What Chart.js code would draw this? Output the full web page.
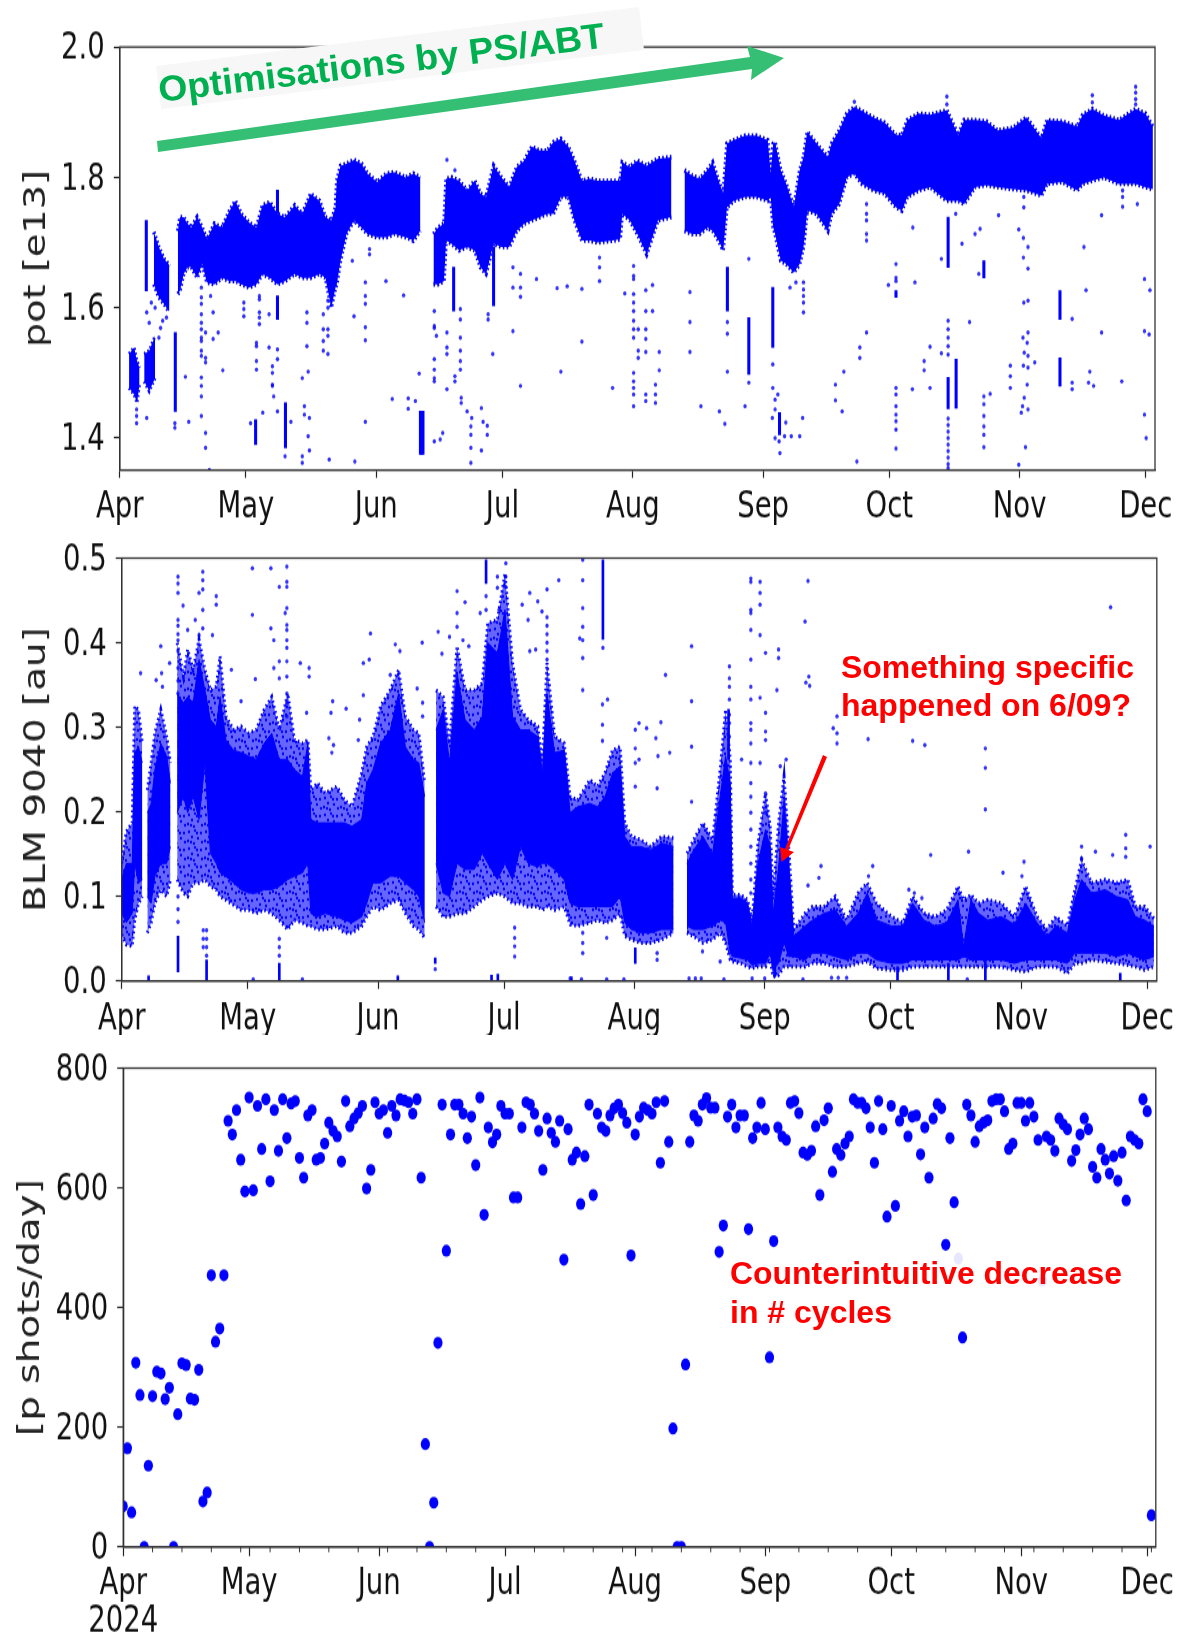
<!DOCTYPE html>
<html><head><meta charset="utf-8">
<script src="https://cdn.jsdelivr.net/npm/chart.js@4"></script>
<style>
html,body{margin:0;padding:0;background:#fff;overflow:hidden;width:1182px;height:1633px}
canvas{position:absolute;left:0;transform-origin:0 0}
svg{position:absolute;left:0;top:0}
</style></head><body>
<canvas id="c1"></canvas><canvas id="c2"></canvas><canvas id="c3"></canvas>
<svg width="1182" height="1633" viewBox="0 0 1182 1633" font-family="'Liberation Sans',Arial,sans-serif" font-weight="700">
  <polygon points="156,66 639,7 644,50 161,109" fill="#f7f7f7"/>
  <text x="160" y="102" transform="rotate(-6.96 160 102)" fill="#00b050" font-size="36" textLength="449" lengthAdjust="spacingAndGlyphs">Optimisations by PS/ABT</text>
  <polygon points="157,141 750,57 747,46 784,58 751,80 752,69 158,152" fill="#35bf75"/>
  <polygon points="823,755 827,757 788,850 794,852 781.5,862 780,847 785,849" fill="#ff0000"/>
  <text x="841" y="678" fill="#ff0000" font-size="31" textLength="293" lengthAdjust="spacingAndGlyphs">Something specific</text>
  <text x="841" y="716" fill="#ff0000" font-size="31" textLength="290" lengthAdjust="spacingAndGlyphs">happened on 6/09?</text>
  <rect x="725" y="1252" width="405" height="78" fill="#ffffff" fill-opacity="0.9"/>
  <text x="730" y="1284" fill="#ff0000" font-size="31" textLength="392" lengthAdjust="spacingAndGlyphs">Counterintuitive decrease</text>
  <text x="730" y="1323" fill="#ff0000" font-size="31" textLength="162" lengthAdjust="spacingAndGlyphs">in # cycles</text>
</svg>
<script>
const monthDays=[0,30,61,91,122,153,183,214,244];
const monthLabels=['Apr','May','Jun','Jul','Aug','Sep','Oct','Nov','Dec'];
const weekDays=[7,14,21,28,35,42,49,56,63,70,77,84,98,105,112,119,126,133,140,147,154,161,168,175,189,196,203,210,217,224,231,238,245];

const potTicks=[1.4,1.6,1.8,2.0];
const blmTicks=[0,0.1,0.2,0.3,0.4,0.5];
const shotTicks=[0,200,400,600,800];

// pot [e13]: upper and lower edge of the dense band
const potEarlyDays=[2.2,3.4,4.1,4.7,5.2,5.8,7.0,8.4];
const potEarlyHigh=[1.529,1.539,1.518,1.508,null,1.529,1.534,1.557];
const potEarlyLow=[1.477,1.467,1.454,1.483,null,1.487,1.472,1.492];
const potDays=[8.1,9.3,10.5,11.6,11.8,12.8,13.8,14.3,15.2,16.1,17.0,18.4,19.6,20.7,22.5,24.3,26.1,27.5,28.9,30.7,32.5,33.9,35.7,37.5,39.3,41.6,43.4,45.4,47.5,48.9,50.3,51.3,51.6,52.5,53.9,55.7,57.5,58.9,61.2,63.4,65.3,68.0,69.8,71.5,73,74.6,75.7,77.1,77.6,78.9,80.7,82.6,84.4,85.8,87.1,88.9,90.8,92.6,94.4,96.2,98.0,99.9,101.7,103.1,104.9,106.7,108.1,109.9,111.85,113.6,117.2,119.0,119.5,121.3,123.1,125.3,128.0,131.2,132.7,134.3,136.1,137.9,139.7,141.0,142.4,143.5,144.4,146.0,148.7,151.4,154.1,154.8,155.4,155.85,157.2,158.5,160.3,161.7,162.6,163.5,165.7,168.4,169.3,171.1,172.9,174.7,176.5,179.2,181.9,184.6,186.0,187.3,190.0,192.7,196.7,199.4,200.8,203.4,206.1,208.8,212.4,215.6,219.2,220.5,224.1,227.7,229.0,231.3,234.0,237.6,241.6,243.9,245.7];
const potHigh=[1.716,1.693,1.675,1.667,1.664,null,1.718,1.739,1.739,1.729,1.723,1.739,1.723,1.705,1.729,1.723,1.749,1.764,1.744,1.731,1.723,1.757,1.762,1.744,1.739,1.757,1.744,1.775,1.764,1.739,1.734,1.754,1.795,1.818,1.821,1.827,1.821,1.806,1.793,1.806,1.808,1.800,1.806,1.800,null,1.713,1.723,1.729,1.798,1.800,1.795,1.780,1.795,1.775,1.770,1.818,1.800,1.785,1.816,1.826,1.847,1.841,1.841,1.854,1.859,1.847,1.826,1.795,1.798,1.795,1.795,1.795,1.823,1.816,1.826,1.818,1.829,1.831,null,1.811,1.803,1.798,1.811,1.823,1.795,1.775,1.852,1.857,1.864,1.864,1.857,1.806,1.852,1.854,1.811,1.790,1.754,1.811,1.831,1.870,1.852,1.831,1.852,1.872,1.898,1.908,1.902,1.892,1.884,1.865,1.865,1.888,1.898,1.896,1.903,1.865,1.888,1.888,1.886,1.872,1.876,1.892,1.860,1.888,1.886,1.878,1.896,1.905,1.895,1.888,1.905,1.898,1.878];
const potLow=[1.636,1.616,1.606,1.595,1.595,null,1.621,1.626,1.652,1.662,1.662,1.646,1.667,1.639,1.636,1.646,1.641,1.641,1.636,1.631,1.636,1.652,1.646,1.636,1.641,1.652,1.646,1.646,1.652,1.646,1.600,1.631,1.636,1.672,1.713,1.734,1.723,1.713,1.708,1.708,1.713,1.708,1.703,1.718,null,1.636,1.636,1.641,1.703,1.698,1.688,1.693,1.688,1.662,1.652,1.698,1.693,1.693,1.718,1.729,1.734,1.739,1.744,1.744,1.770,1.770,1.734,1.703,1.703,1.700,1.703,1.705,1.744,1.734,1.713,1.682,1.734,1.739,null,1.718,1.713,1.713,1.723,1.718,1.703,1.688,1.754,1.764,1.770,1.770,1.764,1.770,1.723,1.713,1.672,1.667,1.654,1.667,1.693,1.749,1.744,1.718,1.744,1.759,1.800,1.806,1.790,1.780,1.775,1.754,1.749,1.770,1.780,1.785,1.764,1.764,1.759,1.785,1.788,1.785,1.782,1.780,1.772,1.790,1.793,1.780,1.790,1.795,1.800,1.790,1.790,1.785,1.782];
// pot: solid vertical runs [day, low, high]
const potRuns=[[6.3,1.626,1.734],[13.2,1.441,1.562],[37.5,1.582,1.618],[37.5,1.744,1.780],[32.3,1.390,1.428],[39.4,1.385,1.454],[71.8,1.375,1.441],[71.5,1.375,1.441],[72.1,1.375,1.441],[79.4,1.595,1.662],[88.9,1.603,1.693],[144.5,1.595,1.662],[149.6,1.498,1.585],[155.3,1.539,1.631],[156.9,1.405,1.439],[223.6,1.582,1.626],[223.6,1.480,1.523],[198.9,1.446,1.521],[197,1.662,1.739],[197,1.493,1.445],[205.5,1.646,1.672],[184.6,1.616,1.626]];
// pot: isolated shots [day, value, value, ...]
const potDots=[[241.6,1.939,1.93,1.92,1.912],[231.3,1.926,1.915],[196.7,1.924,1.912],[174.7,1.916],[197,1.43,1.42,1.41,1.4,1.39,1.38,1.37,1.36,1.354],[4,1.444,1.434,1.423],[6.4,1.431,1.593],[7,1.577],[9.3,1.554],[9.7,1.569],[10.2,1.58],[11.1,1.585],[8.4,1.6],[7.5,1.608],[13.1,1.423,1.416],[15.6,1.494],[16.4,1.425],[19.4,1.631,1.616,1.606,1.59,1.577,1.567,1.554,1.549,1.534,1.526,1.493,1.48,1.464,1.434],[20.4,1.562,1.523,1.516,1.408,1.385],[21.3,1.351],[21.6,1.618],[22.2,1.593,1.552],[23.4,1.562],[24.5,1.504],[29.5,1.608,1.598,1.587],[31.1,1.423],[32.5,1.546,1.541,1.518,1.505],[33.2,1.618,1.613,1.593,1.585,1.575],[34,1.439],[35.5,1.539,1.59],[36.3,1.51,1.5,1.482,1.48],[36.6,1.464],[37.5,1.536,1.521,1.441],[39.3,1.372],[40.7,1.425],[43.4,1.492,1.372,1.362],[44.8,1.502,1.403],[44.5,1.593,1.577,1.541],[43.9,1.449,1.436],[45.1,1.431,1.381],[48.4,1.59,1.567,1.549,1.534],[49.5,1.611,1.6,1.567,1.557,1.529],[49.8,1.367],[55.9,1.364],[58.4,1.639,1.618,1.606,1.57,1.55,1.425],[55.7,1.587],[55.3,1.672],[59.4,1.69,1.682],[63.3,1.641],[67.5,1.619],[64.8,1.46],[68.6,1.461,1.445],[70.3,1.457],[71.2,1.499],[74.8,1.395,1.595,1.572,1.569,1.521,1.505,1.492,1.487],[76.2,1.398],[76.8,1.408],[75.3,1.557],[77.8,1.827,1.562,1.539,1.529,1.475],[79.7,1.811,1.495,1.487],[81,1.598,1.582,1.554,1.534,1.518,1.505],[81.2,1.462,1.454],[82.6,1.441],[83.7,1.431],[83.5,1.418,1.405,1.385,1.362],[86,1.446,1.381],[86.4,1.425],[87.4,1.419,1.405],[87.6,1.59,1.582],[88.7,1.529],[93.5,1.564,1.631,1.662],[95.3,1.652,1.631,1.617,1.48],[99.1,1.644],[104,1.63],[106.4,1.633],[109.9,1.629,1.548],[104.9,1.502],[114.1,1.677,1.662,1.641],[117.2,1.477],[122.2,1.664,1.649,1.644,1.621,1.608,1.595,1.58,1.567,1.554,1.5,1.487,1.477,1.467,1.449],[123.3,1.567,1.534,1.523],[125.1,1.627,1.595,1.567,1.552,1.532,1.467,1.457],[126.7,1.635,1.595],[127.4,1.482,1.467,1.454],[128.3,1.532,1.504],[120.1,1.622],[135.6,1.624,1.578,1.532],[138.2,1.449],[142.6,1.441],[143.9,1.422],[144.5,1.578,1.56,1.502],[148.7,1.449],[149.6,1.675,1.485],[155.3,1.513,1.477],[155.85,1.459,1.444,1.4],[156.5,1.467],[155.2,1.431],[156.8,1.395],[157,1.377],[158.4,1.424],[158.1,1.403],[159.7,1.403],[161.7,1.403],[162.4,1.431],[162.6,1.639,1.628,1.618,1.608,1.593],[159.4,1.631],[160.8,1.639],[170.2,1.482,1.458],[171.8,1.441],[172.2,1.502],[175.3,1.364],[176,1.539,1.523],[177.6,1.562,1.759,1.744,1.734,1.713,1.703],[188.6,1.723],[189.1,1.639],[182.8,1.635],[184.6,1.667,1.646,1.641,1.477,1.467,1.449,1.436,1.426,1.413,1.384],[188.5,1.475],[191.3,1.518,1.504],[192.7,1.54,1.477],[195.4,1.53,1.675],[197,1.58,1.567,1.554,1.541,1.528],[202.1,1.578],[200.3,1.698],[198.8,1.744],[203.4,1.713],[204.6,1.721],[204.3,1.652],[205.5,1.464,1.452,1.434,1.418,1.405,1.386],[207,1.468],[209,1.742],[211.8,1.511,1.495,1.477],[213.8,1.72,1.359],[214.9,1.707,1.677,1.511],[216,1.693,1.66,1.611,1.562,1.526,1.508,1.444],[215,1.608,1.77,1.754],[214.8,1.554],[215.8,1.546,1.482],[215.1,1.531,1.462],[217.6,1.516],[214.7,1.449],[214.4,1.439],[215.4,1.386],[226.5,1.583,1.485,1.475],[230.7,1.502],[230.4,1.485],[231.6,1.48],[229.3,1.693],[229.8,1.627],[233.5,1.742,1.562],[238.3,1.487],[243.7,1.644,1.564,1.436],[245,1.627],[244.8,1.559],[244.1,1.4],[238.5,1.78,1.77,1.755],[242,1.759]];

// BLM 9040 [au]: scattered outer edge and dense core edge
const blmDays=[0,1.1,2.5,3.1,4,4.9,5.5,6.1,7,7.9,9.3,10.7,11.6,12.4,13.2,14.7,15.7,17,18.4,19.8,21.1,22.5,23.4,24.8,26.6,28.4,30.2,32,33.9,35.7,37.5,39.5,41.1,43,44.3,45,46.6,48.4,51.2,53,54.8,57.1,58.3,59.8,61.6,63.9,65.9,67.5,69.4,70.7,72.1,73.5,74.8,76.5,78,79.8,81.7,83.9,85.8,87.1,89.4,91.2,93,94.9,96.7,99,100.1,101.2,103,105.3,106.7,108.5,111.4,113.2,115,116.8,118.6,119.7,121.3,123.5,125.8,128.5,131.3,133,134.5,136.1,138.3,140.6,142.4,143.7,144.8,145.3,147.3,148.9,150,151.4,153.2,154.3,155,156.3,157.6,158.7,159.9,162.6,164.4,167.1,169.8,172.5,175.2,177.4,179.6,183.2,185.9,188.2,190.9,193.6,196.3,199,200.3,202.1,203.9,206.1,209.3,212.4,215.1,217.8,220.1,222.3,225,226.8,228.4,230.8,234,236.7,239.4,241.2,243.4,245.6];
const blmOuterHigh=[.139,.177,.187,.325,.321,.281,null,.226,.258,.293,.321,.289,.258,null,.4,.36,.392,.368,.404,.368,.344,.348,.384,.313,.297,.301,.293,.297,.321,.336,.297,.34,.285,.281,.285,.226,.234,.222,.23,.214,.206,.246,.277,.289,.325,.344,.368,.313,.297,.293,.234,null,.344,.336,.281,.396,.344,.344,.352,.423,.427,.482,.376,.321,.309,.301,.258,.376,.289,.281,.218,.214,.238,.23,.246,.273,.277,.187,.171,.167,.159,.171,.169,null,.151,.167,.187,.167,.25,.321,.262,.102,.102,.096,.072,.163,.222,.183,.1,.187,.242,.159,.061,.08,.088,.088,.1,.072,.104,.116,.092,.076,.069,.1,.08,.076,.084,.112,.096,.102,.092,.096,.092,.076,.112,.076,.061,.076,.065,.108,.143,.116,.12,.116,.12,.088,.088,.074];
const blmCoreHigh=[.12,.139,.139,.27,.277,.258,null,.199,.21,.25,.281,.266,.234,null,.34,.329,.336,.329,.38,.344,.309,.301,.336,.285,.273,.27,.266,.262,.281,.293,.262,.262,.25,.242,.281,.191,.187,.187,.187,.187,.183,.191,.234,.25,.281,.297,.34,.277,.262,.258,.218,null,.297,.321,.258,.364,.309,.297,.313,.4,.388,.439,.313,.297,.297,.289,.246,.34,.27,.273,.199,.206,.21,.206,.218,.246,.254,.171,.159,.159,.155,.163,.159,null,.139,.155,.171,.151,.218,.266,.234,.098,.098,.092,.065,.139,.179,.159,.08,.135,.214,.139,.053,.065,.072,.08,.084,.065,.08,.104,.072,.065,.065,.092,.072,.065,.069,.096,.041,.096,.08,.072,.076,.067,.092,.069,.053,.065,.057,.096,.12,.104,.108,.1,.096,.076,.072,.065];
const blmCoreLow=[.08,.069,.08,.139,.116,.12,null,.1,.092,.124,.139,.139,.159,null,.199,.218,.199,.218,.191,.258,.151,.139,.128,.124,.116,.108,.104,.104,.108,.108,.112,.12,.124,.128,.139,.08,.076,.08,.076,.072,.069,.076,.092,.116,.116,.124,.124,.116,.108,.1,.069,null,.139,.104,.1,.139,.132,.132,.151,.139,.12,.139,.12,.159,.139,.135,.139,.139,.132,.12,.092,.088,.088,.088,.088,.088,.1,.069,.061,.057,.057,.061,.061,null,.065,.061,.061,.065,.072,.069,.033,.029,.027,.025,.019,.021,.021,.033,.013,.021,.045,.029,.029,.025,.033,.033,.029,.025,.033,.033,.025,.021,.021,.025,.025,.025,.025,.025,.029,.025,.025,.025,.025,.021,.025,.025,.025,.025,.021,.033,.033,.033,.033,.029,.033,.029,.025,.029];
const blmOuterLow=[.055,.043,.041,.072,.092,.1,null,.057,.069,.092,.108,.1,.12,null,.12,.104,.1,.116,.116,.12,.112,.108,.1,.096,.09,.084,.084,.08,.084,.08,.072,.061,.072,.069,.065,.065,.061,.061,.065,.057,.057,.065,.076,.088,.084,.092,.096,.08,.065,.061,.051,null,.088,.076,.076,.08,.08,.088,.096,.1,.104,.1,.092,.092,.088,.088,.084,.088,.084,.088,.067,.065,.069,.072,.069,.072,.08,.053,.049,.045,.045,.049,.057,null,.057,.053,.045,.049,.057,.045,.025,.023,.021,.017,.015,.017,.017,.025,.005,.007,.017,.017,.017,.017,.021,.021,.017,.017,.021,.023,.015,.013,.013,.017,.017,.017,.017,.017,.017,.017,.017,.017,.017,.013,.011,.017,.017,.017,.009,.021,.021,.025,.023,.021,.019,.017,.013,.017];
// BLM: solid vertical runs [day, low, high]
const blmRuns=[[13.4,.011,.053],[20.2,0,.025],[37.5,0,.021],[74.6,.021,.027],[86.7,.47,.498],[114.5,.404,.498],[122.2,.021,.039],[144.4,.262,.321],[184.6,0,.017],[196.7,0,.021],[205.5,0,.025],[237.6,0,.009],[155.4,.005,.029],[6.4,0,.006],[65.7,0,.006],[88,0,.007],[89.5,0,.008],[107,0,.005]];
// BLM: isolated shots [day, value, value, ...]
const blmDots=[[13.4,.42,.41,.39,.37,.355,.34],[101.2,.43,.42,.41,.4,.39,.38],[4.5,.364],[8.2,.356],[9.3,.396],[9.5,.364],[9.7,.348],[11.4,.376],[13.4,.478,.47,.459,.427,.403,.1,.085,.07],[14.6,.444],[15.7,.415],[17.5,.427],[18.4,.459,.409],[19.3,.484,.474,.463,.439,.417],[20.2,.06,.05,.04,.03],[19.4,.06,.05,.04],[22.5,.455,.445],[21.6,.409],[26.1,.368],[28.4,.331],[31.1,.488,.433],[31.8,.357],[35.5,.488,.417],[36.2,.403,.37],[39.3,.49,.472,.466,.441,.421,.415,.403,.394,.378,.36,.34,.329,.313],[37.5,.466,.378,.358,.05,.04,.03],[38.9,.435],[42.5,.376],[44.6,.37,.36],[44,.317],[59.2,.411],[57.5,.376,.338],[58.9,.38],[50.2,.331],[53.4,.322],[49.8,.317],[49.3,.287],[50.4,.279],[50,.27],[56.6,.309],[56.3,.285],[65.1,.398],[66.2,.39],[63.9,.362],[71.5,.4],[70.3,.346],[71.6,.329,.313],[75.3,.413],[78,.407],[76.2,.387],[79.8,.461,.435,.419],[81.7,.448],[81.2,.403],[82.6,.396],[85.3,.435],[86.7,.455,.439],[89.4,.478,.465],[91.4,.494,.478,.466],[89.8,.439],[101.2,.463],[100,.437],[99,.449],[97.1,.459,.39],[95.3,.445],[96.7,.427],[104,.474],[109.7,.498,.474,.441,.419,.403,.382,.344,.057,.045,.033],[109,.405],[98.5,.392],[93.5,.063,.051,.041,.029],[74.6,.014],[114.5,.394],[115.6,.333],[114.4,.327,.303,.284],[122.2,.297,.275,.258,.23],[123.1,.305,.262],[124.9,.299],[127.4,.228,.033,.025],[127.1,.287],[128.3,.306],[127.6,.266],[130.4,.27],[129.4,.362],[135.6,.396,.331,.277,.212],[144.6,.372,.358,.348,.333,.315,.305,.289],[147.5,.262],[149.7,.476,.472,.439,.435,.415,.38,.348,.333,.305,.297,.281,.258,.234,.218,.199,.179,.159,.139,.12,.104],[151.9,.472,.459,.445,.409,.335,.258],[153.2,.388,.317,.295,.285,.222,.199],[156.3,.392,.382],[155.9,.344],[156.7,.254],[158.1,.262],[163.3,.473,.113],[162.6,.425],[163.5,.36],[162.8,.353],[163.7,.349],[170.2,.313,.293,.281],[169.3,.299],[177.6,.286],[188.2,.284],[191.1,.279],[205.5,.275,.252,.203],[235.3,.442],[192.5,.149],[201.5,.153],[244.7,.159],[238.9,.173,.157,.147],[178.7,.136],[177.7,.124],[166.4,.136],[165.9,.122],[209.7,.128],[214.7,.141],[214.2,.124],[231.7,.153],[235.8,.149],[228.4,.159,.145],[187.3,.108],[188.6,.104],[190.4,.098],[115.4,.051,.002],[142.4,.023],[138.2,.035],[31.3,.002],[43,.002],[119.5,.002],[135,.003],[136.5,.003],[137.9,.003],[143.3,.002],[150,.003],[153,.003],[162.1,.002],[168.9,.004],[170.5,.004],[172.5,.004],[201.2,.002],[109.4,.002],[106.7,.003]];

// [p shots/day]: one value per day from 1 April
const shotValues=[68,165,58,308,254,0,136,252,293,290,247,266,0,222,307,304,248,246,296,76,91,454,343,365,454,712,689,730,647,594,751,596,737,665,748,611,730,662,748,683,741,745,650,617,721,730,647,650,674,709,695,686,644,745,703,716,725,737,599,630,743,724,730,692,737,721,748,746,743,724,748,617,172,0,74,341,739,495,689,739,739,724,683,719,638,751,555,701,676,689,737,724,724,584,584,701,743,739,724,695,630,716,692,677,712,480,698,647,659,573,653,739,588,724,701,695,721,733,739,725,709,487,689,719,734,730,724,743,642,745,677,198,0,0,305,677,721,712,739,750,734,734,493,537,719,739,701,721,721,531,683,701,742,698,317,511,701,686,680,742,745,725,659,655,662,703,588,713,733,627,665,655,674,686,748,742,742,733,701,642,745,698,552,737,570,712,728,686,719,721,656,701,617,716,740,733,505,683,576,482,350,739,721,677,703,709,713,745,748,748,728,665,674,742,742,712,742,719,680,445,686,680,662,716,706,698,645,663,689,716,698,635,617,665,647,624,653,612,659,579,686,680,674,748,728,53];

const BLUE='#0000ff', DOT='rgba(0,0,255,0.8)';
const tickFont=lh=>({family:"'DejaVu Sans',sans-serif",size:27.5,lineHeight:lh});
const xy=(d,v)=>d.map((x,i)=>({x,y:v[i]}));
const dotData=g=>g.flatMap(([d,...vs])=>vs.map(y=>({x:d,y})));
const runData=g=>g.map(([d,lo,hi])=>({x:d,y:[lo,hi]}));
function lineDs(d,v,fill,bg,bc,bw,dash){return{type:'line',data:xy(d,v),fill,backgroundColor:bg,borderColor:bc,borderWidth:bw,borderDash:dash||[],pointRadius:0,tension:0,spanGaps:false};}
function runDs(g,t){return{type:'bar',data:runData(g),backgroundColor:BLUE,barThickness:t,borderWidth:0};}
function dotDs(g){return{type:'scatter',data:dotData(g),backgroundColor:DOT,borderWidth:0,pointRadius:1.7,pointHoverRadius:1.7};}

function stipple(){
  const c=document.createElement('canvas');c.width=17;c.height=13;
  const g=c.getContext('2d');g.fillStyle='rgba(0,0,255,.6)';g.fillRect(0,0,17,13);g.fillStyle=BLUE;
  [[2,2],[8,1],[14,3],[5,6],[11,7],[1,9],[7,11],[15,10],[10,3],[4,10]].forEach(([x,y])=>{g.beginPath();g.arc(x,y,1.15,0,7);g.fill();});
  return g.createPattern(c,'repeat');
}

const framePlugin={id:'frame',afterDatasetsDraw(ch){const a=ch.chartArea,g=ch.ctx;g.save();g.strokeStyle='#333';g.lineWidth=1.3;g.strokeRect(a.left,a.top,a.width,a.height);g.restore();}};
const weekPlugin={id:'weekTicks',afterDraw(ch){const s=ch.scales.x,g=ch.ctx;g.save();g.strokeStyle='#333';g.lineWidth=1;weekDays.forEach(d=>{const x=s.getPixelForValue(d);g.beginPath();g.moveTo(x,s.top);g.lineTo(x,s.top+4);g.stroke();});g.restore();}};

function make(id,o){
  const cv=document.getElementById(id);
  const H=Math.round(o.cssH/o.s);
  cv.width=1182;cv.height=H;cv.style.top=o.top+'px';cv.style.transform='scaleY('+o.s+')';
  const pTop=(o.plotTop-o.top)/o.s, pBot=(o.plotBottom-o.top)/o.s;
  return new Chart(cv,{type:'scatter',data:{datasets:o.datasets},plugins:o.plugins||[framePlugin],options:{
    responsive:false,maintainAspectRatio:false,animation:false,devicePixelRatio:1,
    layout:{padding:{left:0,top:pTop,right:1182-o.right,bottom:0}},
    plugins:{legend:{display:false},tooltip:{enabled:false}},
    scales:{
      x:{type:'linear',min:0,max:o.xMax,offset:false,
        grid:{offset:false,drawOnChartArea:false,drawTicks:true,tickLength:o.xTick,tickColor:'#222',tickWidth:1.2},
        border:{display:true,color:'#333',width:1.3},
        afterBuildTicks:s=>{s.ticks=monthDays.map(v=>({value:v}));},
        afterFit:s=>{s.height=H-pBot;},
        ticks:{autoSkip:false,maxRotation:0,minRotation:0,padding:o.xPad,color:'#111',font:tickFont(o.lh||1.2),
          callback:v=>{const l=monthLabels[monthDays.indexOf(v)];return (o.yearOn&&v===0)?[l,'2024']:l;}}},
      y:{type:'linear',min:o.yMin,max:o.yMax,
        grid:{drawOnChartArea:false,drawTicks:true,tickLength:6,tickColor:'#222',tickWidth:1.2},
        border:{display:true,color:'#333',width:1.3},
        afterBuildTicks:s=>{s.ticks=o.yTicks.map(v=>({value:v}));},
        afterFit:s=>{s.width=o.left;},
        title:{display:true,text:o.title,color:'#222',font:{family:"'DejaVu Sans',sans-serif",size:o.titleSize},padding:{top:o.titlePad,bottom:0}},
        ticks:{padding:o.yPad,color:'#111',font:tickFont(1.2),labelOffset:2,callback:o.yFmt}}
    }}});
}

make('c1',{top:0,cssH:525,s:1.3,plotTop:47,plotBottom:470,left:119.8,right:1155,xMax:246.2,yMin:1.351,yMax:2.0,yTicks:potTicks,yFmt:v=>v.toFixed(1),title:'pot [e13]',titleSize:29.5,titlePad:20,xTick:6,xPad:7,yPad:9,
  datasets:[
    dotDs(potDots),
    runDs(potRuns,2.4),
    lineDs(potEarlyDays,potEarlyHigh,'+1',BLUE,BLUE,3,[1.6,2.2]),
    lineDs(potEarlyDays,potEarlyLow,false,BLUE,BLUE,3,[1.6,2.2]),
    lineDs(potDays,potHigh,'+1',BLUE,BLUE,3.6,[1.6,2.2]),
    lineDs(potDays,potLow,false,BLUE,BLUE,3.6,[1.6,2.2])
  ]});

const pat=stipple();
make('c2',{top:525,cssH:510,s:1.3,plotTop:558,plotBottom:981,left:121.7,right:1157,xMax:246.3,yMin:0,yMax:0.5,yTicks:blmTicks,yFmt:v=>v.toFixed(1),title:'BLM 9040 [au]',titleSize:30,titlePad:19,xTick:6,xPad:8,yPad:9,
  datasets:[
    dotDs(blmDots),
    runDs(blmRuns,2),
    lineDs(blmDays,blmCoreHigh,'+1',BLUE,BLUE,1),
    lineDs(blmDays,blmCoreLow,false,BLUE,BLUE,1),
    lineDs(blmDays,blmOuterHigh,'+1',pat,BLUE,3,[1.6,2.6]),
    lineDs(blmDays,blmOuterLow,false,'rgba(0,0,0,0)',BLUE,3,[1.6,2.6])
  ]});

make('c3',{top:1035,cssH:598,s:1.3,plotTop:1068,plotBottom:1547,left:123.2,right:1158.5,xMax:246.05,yMin:0,yMax:800,yTicks:shotTicks,yFmt:v=>String(v),title:'[p shots/day]',titleSize:30,titlePad:13,xTick:7,xPad:8,yPad:9,yearOn:true,lh:1.05,
  plugins:[framePlugin,weekPlugin],
  datasets:[{type:'scatter',data:shotValues.map((y,x)=>({x,y})),backgroundColor:BLUE,borderWidth:0,pointRadius:4.6,pointHoverRadius:4.6}]});
</script>
</body></html>
